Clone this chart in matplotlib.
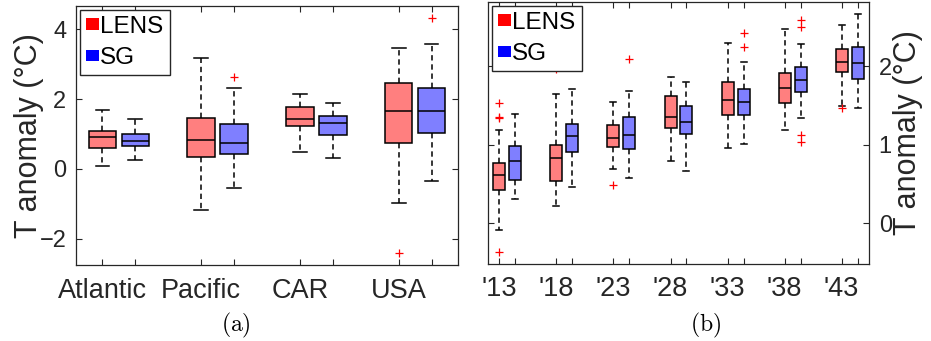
import matplotlib
matplotlib.use("Agg")
import matplotlib.pyplot as plt
from matplotlib.patches import Patch

plt.rcParams["font.family"] = ["Liberation Sans", "DejaVu Sans"]
plt.rcParams["mathtext.fontset"] = "cm"

# ---- panel (a): regions ----
regions = ["Atlantic", "Pacific", "CAR", "USA"]
lens_a_low = [0.09, -1.19, 0.49, -0.98]
lens_a_q1 = [0.60, 0.33, 1.24, 0.75]
lens_a_med = [0.90, 0.82, 1.44, 1.67]
lens_a_q3 = [1.09, 1.47, 1.76, 2.46]
lens_a_high = [1.70, 3.19, 2.15, 3.46]
lens_a_fliers = [[], [], [], [-2.43]]

sg_a_low = [0.25, -0.56, 0.31, -0.34]
sg_a_q1 = [0.66, 0.43, 0.96, 1.04]
sg_a_med = [0.80, 0.75, 1.31, 1.67]
sg_a_q3 = [1.00, 1.29, 1.51, 2.33]
sg_a_high = [1.44, 2.32, 1.89, 3.57]
sg_a_fliers = [[], [2.64], [], [4.32]]

# ---- panel (b): years ----
years = ["'13", "'18", "'23", "'28", "'33", "'38", "'43"]
lens_b_low = [-0.09, 0.22, 0.69, 0.79, 0.955, 1.19, 1.49]
lens_b_q1 = [0.42, 0.54, 0.97, 1.21, 1.38, 1.53, 1.93]
lens_b_med = [0.61, 0.83, 1.09, 1.36, 1.575, 1.72, 2.055]
lens_b_q3 = [0.77, 1.00, 1.25, 1.62, 1.80, 1.92, 2.22]
lens_b_high = [1.185, 1.65, 1.55, 1.87, 2.30, 2.48, 2.53]
lens_b_fliers = [[1.53, 1.36, 1.34, -0.365], [1.97], [0.49], [], [], [], [1.47]]

sg_b_low = [0.31, 0.46, 0.57, 0.67, 1.015, 1.34, 1.465]
sg_b_q1 = [0.55, 0.91, 0.95, 1.14, 1.38, 1.67, 1.84]
sg_b_med = [0.79, 1.11, 1.13, 1.29, 1.54, 1.82, 2.04]
sg_b_q3 = [0.98, 1.26, 1.35, 1.49, 1.71, 1.99, 2.25]
sg_b_high = [1.39, 1.715, 1.69, 1.80, 2.055, 2.29, 2.67]
sg_b_fliers = [[], [], [2.09], [], [2.42, 2.25], [2.59, 2.50, 1.12, 1.03], []]


def make_stats(low, q1, med, q3, high, fliers):
    return [dict(whislo=a, q1=b, med=c, q3=d, whishi=e, fliers=f)
            for a, b, c, d, e, f in zip(low, q1, med, q3, high, fliers)]


def draw(ax, stats, pos, face, w):
    ax.bxp(stats, positions=pos, widths=w, capwidths=w * 0.5,
           patch_artist=True, manage_ticks=False,
           boxprops=dict(facecolor=face, edgecolor="black", linewidth=1.1),
           whiskerprops=dict(color="black", linewidth=1.1, linestyle=(0, (3.5, 2.5))),
           capprops=dict(color="black", linewidth=1.1),
           medianprops=dict(color="black", linewidth=1.1),
           flierprops=dict(marker="+", markeredgecolor="red", markersize=6,
                           markeredgewidth=0.9, linestyle="none"))


def style(ax):
    for s in ax.spines.values():
        s.set_color("#262626")
        s.set_linewidth(0.9)
    ax.tick_params(direction="in", top=True, right=True, length=4,
                   width=0.8, colors="#262626", labelcolor="#262626")
    ax.tick_params(axis="y", labelsize=17, pad=7)
    ax.tick_params(axis="x", labelsize=19.5, pad=9)


legend_handles = [Patch(facecolor="red", edgecolor="none", label="LENS"),
                  Patch(facecolor="blue", edgecolor="none", label="SG")]


def add_legend(ax):
    leg = ax.legend(handles=legend_handles, loc="upper left", bbox_to_anchor=(0, 1),
                    fontsize=17.5, fancybox=False, framealpha=1, edgecolor="#262626",
                    borderaxespad=0.15, borderpad=0.25, labelspacing=0.38,
                    handlelength=0.55, handleheight=0.34, handletextpad=0.05)
    leg.get_frame().set_linewidth(1.0)


fig = plt.figure(figsize=(9.31, 3.41), dpi=100)

# panel (a)
ax1 = fig.add_axes([76 / 931, 76 / 341, 382 / 931, 259 / 341])
pos_lens_a = [1 + 3 * i for i in range(len(regions))]
pos_sg_a = [p + 1 for p in pos_lens_a]
draw(ax1, make_stats(lens_a_low, lens_a_q1, lens_a_med, lens_a_q3, lens_a_high, lens_a_fliers),
     pos_lens_a, "#ff7f7f", 0.83)
draw(ax1, make_stats(sg_a_low, sg_a_q1, sg_a_med, sg_a_q3, sg_a_high, sg_a_fliers),
     pos_sg_a, "#7f7fff", 0.83)
ticks_a = sorted(pos_lens_a + pos_sg_a)
ax1.set_xticks(ticks_a)
ax1.set_xticklabels([regions[i // 2] if i % 2 == 0 else "" for i in range(len(ticks_a))])
ax1.set_xlim(0.2, 11.8)
ax1.set_ylim(-2.76, 4.67)
ax1.set_yticks([-2, 0, 2, 4])
ax1.set_ylabel("T anomaly (°C)", fontsize=22, color="#262626", labelpad=-3)
style(ax1)
add_legend(ax1)

# panel (b)
ax2 = fig.add_axes([488 / 931, 77 / 341, 381 / 931, 262 / 341])
pos_lens_b = [float(i) for i in range(len(years))]
pos_sg_b = [p + 0.28 for p in pos_lens_b]
draw(ax2, make_stats(lens_b_low, lens_b_q1, lens_b_med, lens_b_q3, lens_b_high, lens_b_fliers),
     pos_lens_b, "#ff7f7f", 0.21)
draw(ax2, make_stats(sg_b_low, sg_b_q1, sg_b_med, sg_b_q3, sg_b_high, sg_b_fliers),
     pos_sg_b, "#7f7fff", 0.21)
ticks_b = sorted(pos_lens_b + pos_sg_b)
ax2.set_xticks(ticks_b)
ax2.set_xticklabels([years[i // 2] if i % 2 == 0 else "" for i in range(len(ticks_b))])
ax2.set_xlim(-0.2, 6.48)
ax2.set_ylim(-0.52, 2.82)
ax2.set_yticks([0, 1, 2])
style(ax2)
ax2.tick_params(axis="y", labelleft=False, labelright=True)
ax2.yaxis.set_label_position("right")
ax2.set_ylabel("T anomaly (°C)", fontsize=22, color="#262626", labelpad=1)
add_legend(ax2)

fig.text(235.7 / 931, 1 - 325 / 341, r"$\mathrm{(a)}$", fontsize=17, ha="center", va="center")
fig.text(705.7 / 931, 1 - 325 / 341, r"$\mathrm{(b)}$", fontsize=17, ha="center", va="center")

fig.savefig("out.png", dpi=100)
